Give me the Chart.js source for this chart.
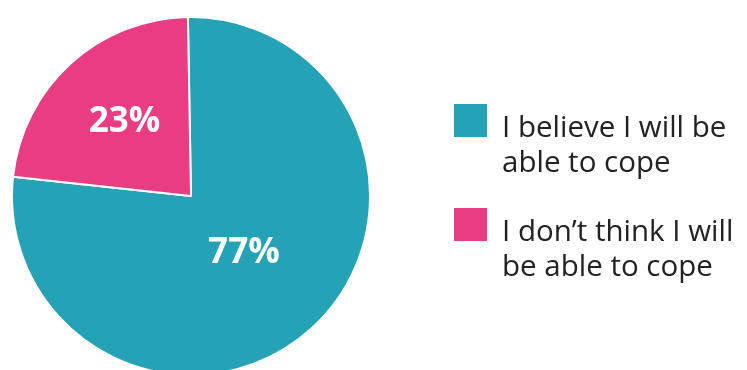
<!DOCTYPE html>
<html>
<head>
<meta charset="utf-8">
<script src="https://cdn.jsdelivr.net/npm/chart.js@4"></script>
<style>
  html, body { margin: 0; padding: 0; background: #fff; overflow: hidden; }
  #wrap { width: 747px; height: 370px; overflow: hidden; position: relative; }
</style>
</head>
<body>
<div id="wrap"><canvas id="chart" width="747" height="392"></canvas></div>
<script>
const labels = [['I believe I will be', 'able to cope'], ['I don\u2019t think I will', 'be able to cope']];
const values = [77, 23];
const colors = ['#26a2b7', '#ea3c83'];

// radial position of the % label inside each slice
const labelRadius = [0.43, 0.56];

const sliceLabels = {
    id: 'sliceLabels',
    afterDatasetsDraw(chart) {
        const ctx = chart.ctx;
        const arcs = chart.getDatasetMeta(0).data;
        ctx.save();
        ctx.fillStyle = '#fff';
        ctx.font = 'bold 35px "Open Sans"';
        ctx.textAlign = 'center';
        ctx.textBaseline = 'middle';
        arcs.forEach((arc, i) => {
            const mid = (arc.startAngle + arc.endAngle) / 2;
            const r = arc.outerRadius * labelRadius[i];
            ctx.fillText(values[i] + '%', arc.x + Math.cos(mid) * r + 1, arc.y + Math.sin(mid) * r);
        });
        ctx.restore();
    }
};

const sideLegend = {
    id: 'sideLegend',
    afterDraw(chart) {
        const ctx = chart.ctx;
        ctx.save();
        ctx.font = '29.5px "Open Sans"';
        ctx.textBaseline = 'alphabetic';
        ctx.textAlign = 'left';
        labels.forEach((lines, i) => {
            const top = 104 + i * 104;
            ctx.fillStyle = colors[i];
            ctx.fillRect(454, top, 33, 33);
            ctx.fillStyle = '#222';
            lines.forEach((line, j) => {
                ctx.fillText(line, 502, top + 33 + j * 35);
            });
        });
        ctx.restore();
    }
};

new Chart(document.getElementById('chart'), {
    type: 'pie',
    data: {
        labels: labels.map((l) => l.join(' ')),
        datasets: [{
            data: values,
            backgroundColor: colors,
            borderColor: '#fff',
            borderWidth: 2
        }]
    },
    options: {
        responsive: false,
        animation: false,
        rotation: -1,
        layout: { padding: { left: 11, right: 376, top: 16, bottom: 16 } },
        plugins: {
            legend: { display: false },
            tooltip: { enabled: false }
        }
    },
    plugins: [sliceLabels, sideLegend]
});
</script>
</body>
</html>
